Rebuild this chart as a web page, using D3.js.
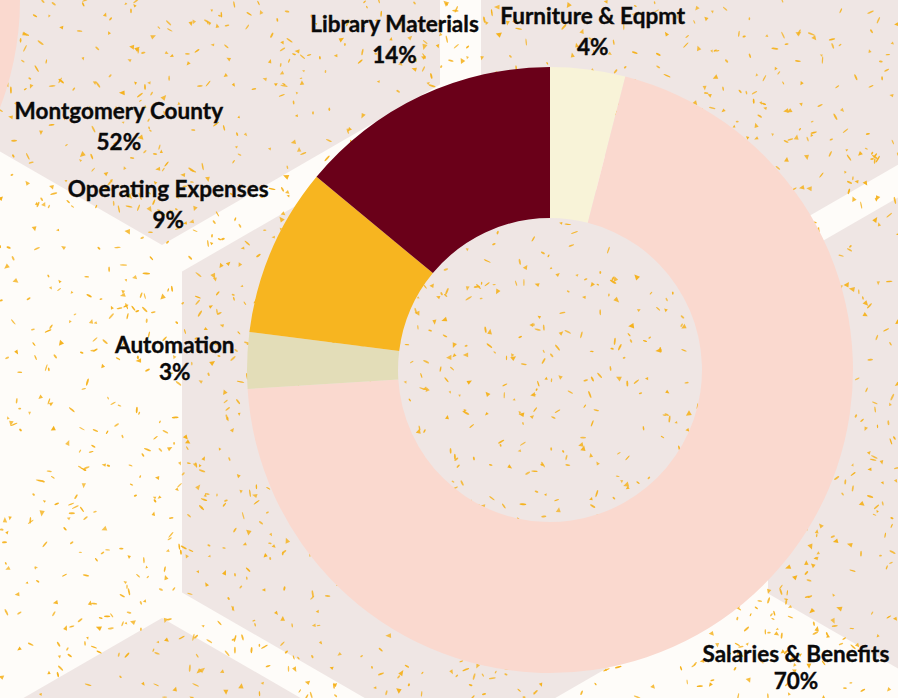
<!DOCTYPE html>
<html lang="en">
<head>
<meta charset="UTF-8">
<title>Expenditures</title>
<script src="https://d3js.org/d3.v7.min.js"></script>
<style>
  body { margin: 0; background: #fefcf9; }
  svg { display: block; }
  .label { font-family: Lato, "Open Sans", sans-serif; font-weight: 700; font-size: 22.5px; fill: #0a0a0a; stroke: #0a0a0a; stroke-width: 0.35px; }
</style>
</head>
<body>
<svg width="898" height="698"></svg>
<script>
// expenditure shares (%), clockwise from 12 o'clock
const categories = ["Furniture & Eqpmt", "Salaries & Benefits", "Automation", "Operating Expenses", "Library Materials"];
const shares = [4, 70, 3, 9, 14];
const colors = ["#f8f3d8", "#fad9cf", "#e3ddb8", "#f7b520", "#6a0019"];

// neighbouring revenue chart, only one slice shows at the edge
const revenueCategories = ["Montgomery County"];
const revenueShares = [52];
const revenueColors = ["#fad9cf"];

const W = 898, H = 698;
const svg = d3.select("svg");

// ---- background: hexagons + confetti ----
const hexR = 321;
const hexCenters = [[162, -76], [759, -76], [460, 432], [1046, 433], [162, 939]];
const hexPts = d3.range(6).map(i => {
    const a = Math.PI / 3 * i;
    return [hexR * Math.sin(a), -hexR * Math.cos(a)];
});

svg.append("rect").attr("width", W).attr("height", H).attr("fill", "#fefcf9");
svg.append("g").selectAll("path")
    .data(hexCenters)
    .join("path")
    .attr("d", c => "M" + hexPts.map(p => [c[0] + p[0], c[1] + p[1]]).join("L") + "Z")
    .attr("fill", "#efe6e4");

// seeded so the speckle texture is the same every run
function mulberry32(a) {
    return function () {
        a |= 0; a = a + 0x6D2B79F5 | 0;
        let t = Math.imul(a ^ a >>> 15, 1 | a);
        t = t + Math.imul(t ^ t >>> 7, 61 | t) ^ t;
        return ((t ^ t >>> 14) >>> 0) / 4294967296;
    };
}
const rnd = mulberry32(20240);
const confetti = svg.append("g").attr("fill", "#f5b11b");
for (let i = 0; i < 2000; i++) {
    const x = rnd() * W, y = rnd() * H, rot = rnd() * 180;
    const g = confetti.append("g").attr("transform", `translate(${x.toFixed(1)},${y.toFixed(1)}) rotate(${rot.toFixed(0)})`)
        .attr("opacity", (0.75 + rnd() * 0.25).toFixed(2));
    if (rnd() < 0.68) {
        g.append("ellipse").attr("rx", (1.4 + rnd() * 2.4).toFixed(1)).attr("ry", (0.6 + rnd() * 0.4).toFixed(2));
    } else {
        const s = 1.4 + rnd() * 1.8;
        g.append("path").attr("d", `M${-s},${s * 0.5}L${s},${s * 0.5}L${(rnd() - 0.5) * s},${-s}Z`);
    }
}

// ---- neighbouring revenue donut (off the top-left) ----
const revCx = -280, revCy = 0, revR = 300;
const revStart = 14 * Math.PI / 180;
const revPie = d3.pie().sort(null).value(d => d)
    .startAngle(revStart)
    .endAngle(revStart + 2 * Math.PI * d3.sum(revenueShares) / 100);
const revArcs = revPie(revenueShares);
const revArc = d3.arc().innerRadius(150).outerRadius(revR);
const revG = svg.append("g").attr("transform", `translate(${revCx},${revCy})`);
revG.selectAll("path").data(revArcs).join("path")
    .attr("d", revArc).attr("fill", (d, i) => revenueColors[i]);

// ---- main donut ----
const cx = 550, cy = 370, outerR = 303, innerR = 152;
const data = categories.map((c, i) => ({ name: c, value: shares[i], color: colors[i] }));
const pie = d3.pie().sort(null).value(d => d.value);
const arcs = pie(data);
const arc = d3.arc().innerRadius(innerR).outerRadius(outerR);
const chart = svg.append("g").attr("transform", `translate(${cx},${cy})`);
chart.selectAll("path").data(arcs).join("path")
    .attr("d", arc).attr("fill", d => d.data.color);

// outside-end labels: push the label box out along the mid angle until its
// nearest point is a fixed gap beyond the outer radius
const fmt = d3.format(".0f");
const tightLines = new Set(["Automation", "Salaries & Benefits"]);
const fs = 22.5, capH = 0.72 * fs, gap = 12;

function addLabel(parent, name, pct, mid, rOut) {
    const lineH = tightLines.has(name) ? 27 : 31;
    const g = parent.append("g");
    const t = g.append("text").attr("class", "label").attr("text-anchor", "middle");
    t.append("tspan").attr("x", 0).attr("y", 0).text(name);
    t.append("tspan").attr("x", 0).attr("y", lineH).text(fmt(pct) + "%");
    const w = t.node().getBBox().width;
    const h = capH + lineH;
    t.attr("transform", `translate(0,${capH - h / 2})`);
    const ux = Math.sin(mid), uy = -Math.cos(mid);
    let lo = 0, hi = rOut * 3;
    for (let k = 0; k < 60; k++) {
        const m = (lo + hi) / 2, px = m * ux, py = m * uy;
        const nx = Math.max(px - w / 2, Math.min(0, px + w / 2));
        const ny = Math.max(py - h / 2, Math.min(0, py + h / 2));
        if (Math.hypot(nx, ny) < rOut + gap) lo = m; else hi = m;
    }
    g.attr("transform", `translate(${lo * ux},${lo * uy})`);
}

arcs.forEach(d => addLabel(chart, d.data.name, d.data.value, (d.startAngle + d.endAngle) / 2, outerR));
revArcs.forEach((d, i) => addLabel(revG, revenueCategories[i], revenueShares[i], (d.startAngle + d.endAngle) / 2, revR));
</script>
</body>
</html>
